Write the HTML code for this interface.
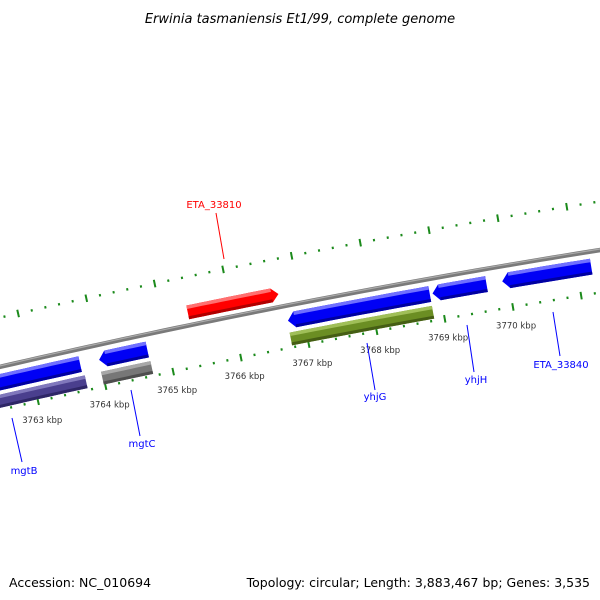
<!DOCTYPE html>
<html><head><meta charset="utf-8"><style>
html,body{margin:0;padding:0;background:#fff;}
svg{display:block;font-family:"DejaVu Sans","Liberation Sans",sans-serif;}
</style></head><body>
<svg id="map" width="600" height="600" viewBox="0 0 600 600" xmlns="http://www.w3.org/2000/svg">
<rect width="600" height="600" fill="#fff"/>
<text x="300" y="23" text-anchor="middle" font-size="13" font-style="italic" fill="#000">Erwinia tasmaniensis Et1/99, complete genome</text>
<g id="plot"></g>
<text x="9" y="587" font-size="12.5" fill="#000">Accession: NC_010694</text>
<text x="590" y="587" text-anchor="end" font-size="12.5" fill="#000">Topology: circular; Length: 3,883,467 bp; Genes: 3,535</text>
</svg>
<script>
// ---- data ----
const featNames = ["blue-left","mgtC","yhjG","yhjH","ETA_33840","mgtB","gray-feature","olive-feature","ETA_33810"];
const featStart = [3762000,3763990,3766770,3768890,3769910,3762000,3763980,3766760,3765380];
const featEnd   = [3763710,3764700,3768850,3769680,3771210,3763740,3764710,3768850,3766710];
const featStrand= [-1,-1,-1,-1,-1,0,0,0,1];
const featColor = ["blue","blue","blue","blue","blue","purple","gray","olive","red"];
const tickStart = 3762000, tickEnd = 3772000, tickStep = 200;
const kbpLabels = [3763,3764,3765,3766,3767,3768,3769,3770];
const labelText = ["mgtB","mgtC","yhjG","yhjH","ETA_33840","ETA_33810"];

// ---- geometry ----
const CX=1981, CY=8941, R=8800;
const PHI0=-101.46*Math.PI/180, K=0.4525*Math.PI/180/1000;
function phi(bp){return PHI0+(bp-3766000)*K;}
function pt(r,bp){const a=phi(bp);return [CX+r*Math.cos(a), CY+r*Math.sin(a)];}
const NS="http://www.w3.org/2000/svg";
const plot=document.getElementById('plot');
function mk(tag,attrs){const e=document.createElementNS(NS,tag);for(const k in attrs)e.setAttribute(k,attrs[k]);return e;}
function arcPts(r,b0,b1,n){const a=[];for(let i=0;i<=n;i++){a.push(pt(r,b0+(b1-b0)*i/n));}return a;}
function poly(ptsArr){return ptsArr.map(p=>p[0].toFixed(2)+","+p[1].toFixed(2)).join(" ");}

// rulers
const RIN=R-42, ROUT=R+48;
[ROUT,RIN].forEach((rr,ri)=>{
  const g=mk('g',{});
  
  
  for(let bp=tickStart;bp<=tickEnd;bp+=tickStep){
    const major=(bp%1000===0);
    const h=major?3.8:1.2;
    const p1=pt(rr-h,bp), p2=pt(rr+h,bp);
    const l=mk('line',{x1:p1[0],y1:p1[1],x2:p2[0],y2:p2[1],stroke:'#1b8a1b','stroke-width':2});
    
    
    g.appendChild(l);
  }
  plot.appendChild(g);
});
kbpLabels.forEach(k=>{
  const p=pt(RIN-19,k*1000);
  const t=mk('text',{x:p[0],y:p[1]+3,'text-anchor':'middle','font-size':'8.5',fill:'#333'});
  t.textContent=k+" kbp";
  
  
  plot.appendChild(t);
});

// backbone
const bb=mk('polyline',{points:poly(arcPts(R,3761500,3772500,60)),fill:'none',stroke:'#7a7a7a','stroke-width':4.5});


plot.appendChild(bb);
const bb2=mk('polyline',{points:poly(arcPts(R+1,3761500,3772500,60)),fill:'none',stroke:'#aaaaaa','stroke-width':1.2});


plot.appendChild(bb2);

// features
const PAL={blue:['#0000f5','#7070ff','#0000a0'],purple:['#4a3f8e','#8078bc','#2e2666'],gray:['#777777','#a8a8a8','#4e4e4e'],olive:['#6b8e23','#a0bf58','#455e14'],red:['#ff0000','#ff7070','#b00000']};
const ARW=100;
featNames.forEach((nm,i)=>{
  const s=featStrand[i];
  let r0,r1;
  if(s===1){r0=R+6;r1=R+20;} else if(s===-1){r0=R-23;r1=R-7;} else {r0=R-40;r1=R-27;}
  const b0=featStart[i], b1=featEnd[i], rm=(r0+r1)/2;
  let shape, sb0=b0, sb1=b1;
  if(s===1){sb1=b1-ARW;shape=[...arcPts(r1,b0,sb1,12),pt(rm,b1),...arcPts(r0,sb1,b0,12)];}
  else if(s===-1){sb0=b0+ARW;shape=[pt(rm,b0),...arcPts(r1,sb0,b1,12),...arcPts(r0,b1,sb0,12)];}
  else{shape=[...arcPts(r1,b0,b1,12),...arcPts(r0,b1,b0,12)];}
  const c=PAL[featColor[i]];
  const g=mk('g',{});
  
  
  g.appendChild(mk('polygon',{points:poly(shape),fill:c[0]}));
  g.appendChild(mk('polygon',{points:poly([...arcPts(r1,sb0,sb1,12),...arcPts(r1-3.5,sb1,sb0,12)]),fill:c[1]}));
  g.appendChild(mk('polygon',{points:poly([...arcPts(r0+3,sb0,sb1,12),...arcPts(r0,sb1,sb0,12)]),fill:c[2]}));
  plot.appendChild(g);
});

// feature labels
const LBL=[
 {x:24,y:474,x1:12,y1:418,x2:22,y2:462,c:'#0000ff'},
 {x:142,y:447,x1:131,y1:390,x2:140,y2:436,c:'#0000ff'},
 {x:375,y:400,x1:367,y1:343,x2:375,y2:390,c:'#0000ff'},
 {x:476,y:383,x1:467,y1:325,x2:474,y2:372,c:'#0000ff'},
 {x:561,y:368,x1:553,y1:312,x2:560,y2:356,c:'#0000ff'},
 {x:214,y:208,x1:216,y1:213,x2:224,y2:259,c:'#ff0000'}
];
LBL.forEach((L,i)=>{
  const ln=mk('line',{x1:L.x1,y1:L.y1,x2:L.x2,y2:L.y2,stroke:L.c,'stroke-width':1});
  
  
  plot.appendChild(ln);
  const t=mk('text',{x:L.x,y:L.y,'text-anchor':'middle','font-size':'10',fill:L.c});
  t.textContent=labelText[i];
  
  
  plot.appendChild(t);
});
</script>
</body></html>
